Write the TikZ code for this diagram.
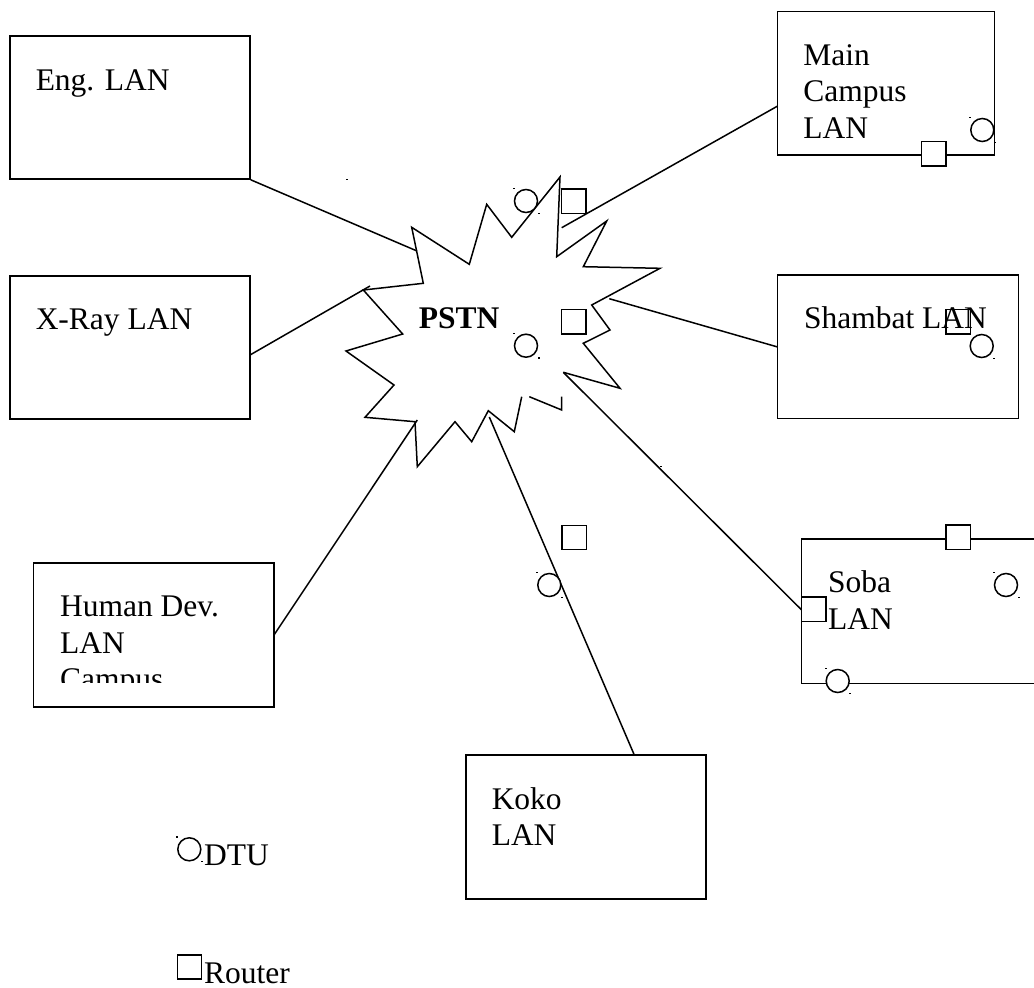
\documentclass[tikz,border=0pt]{standalone}
\usepackage{fontspec}
\setmainfont{Liberation Serif}
% a DTU: small open circle with two tiny frame-corner marks
\newcommand\dtuat[2]{%
  \node[dtu] (#1) at (#2) {};
  \fill ([shift={(-13,-13)}]#1.center) rectangle +(2,1.3);
  \fill ([shift={(11.5,11.5)}]#1.center) rectangle +(2,1.3);
}
\begin{document}
\begin{tikzpicture}[x=1pt,y=-1pt,
  line width=1.5pt, line join=miter,
  lanbox/.style={draw, rectangle, inner sep=0pt},
  router/.style={draw, fill=white, rectangle, minimum size=24.3pt, inner sep=0pt},
  dtu/.style={draw, fill=white, circle, minimum size=23pt, inner sep=0pt},
  lbl/.style={anchor=base west, inner sep=0pt, font=\fontsize{31.5}{36.5}\selectfont},
]
\clip (0,0) rectangle (1034,988);

% LAN boxes
\node[lanbox, minimum width=240pt, minimum height=143.3pt] (eng)  at (130,107.4) {};
\node[lanbox, minimum width=240pt, minimum height=143.3pt] (xray) at (130,347.4) {};
\node[lanbox, minimum width=240.7pt, minimum height=144.3pt] (hum) at (153.7,634.9) {};
\node[lanbox, minimum width=216.6pt, minimum height=143.3pt] (main) at (886,83.3) {};
\node[lanbox, minimum width=240.6pt, minimum height=143.3pt] (shm) at (898,346.7) {};
\node[lanbox, minimum width=240pt, minimum height=144pt] (koko) at (586,827) {};
\node[lanbox, minimum width=260pt, minimum height=144.3pt] (soba) at (931.7,611.2) {};

% PSTN cloud outline
\draw (563.3,372.3) -- (620,388.3) -- (583.3,343.3) -- (610,330) -- (591.7,305)
  -- (660,268.3) -- (583.3,266.7) -- (606.7,221) -- (556.7,256.7) -- (560,177)
  -- (511.7,237.3) -- (486.7,204.3) -- (469.3,264.3) -- (411.7,227.3)
  -- (423.3,283.3) -- (363.3,290) -- (402.7,334) -- (346,351) -- (394,385)
  -- (365,417.3) -- (415,421.7) -- (417.3,466.7) -- (455,421.7) -- (471.7,441.7)
  -- (488.3,410.7) -- (514.3,431.7) -- (521.7,396.7);
\draw (529.3,396.7) -- (561.7,410) -- (561.7,396.7);

% attachment points
\coordinate (sEng)  at (417,251);
\coordinate (sXray) at (370,286);
\coordinate (sHum)  at (417.3,420);
\coordinate (sKoko) at (489.3,417);
\coordinate (sSoba) at (563.3,372.3);
\coordinate (sShm)  at (609.3,298.7);
\coordinate (sMain) at (561.7,227.7);
\coordinate (pXray) at (250,355);
\coordinate (pHum)  at (274,635);
\coordinate (pKoko) at (634.3,755);
\coordinate (pSoba) at (801.7,610);
\coordinate (pShm)  at (777.7,347);
\coordinate (pMain) at (777.7,106);

% links
\draw (eng.south east) -- (sEng);
\draw (pXray) -- (sXray);
\draw (pHum) -- (sHum);
\draw (pKoko) -- (sKoko);
\draw (sSoba) -- (pSoba);
\draw (sShm) -- (pShm);
\draw (sMain) -- (pMain);

% stray marks
\fill (345.7,178.6) rectangle +(2,1.3);
\fill (659.5,465.5) rectangle +(2,1.3);

% routers
\node[router] (r1) at (573.8,201.3) {};
\node[router] (r2) at (573.8,321.7) {};
\node[router] (r3) at (574.2,537.5) {};
\node[router] (r4) at (933.8,153.7) {};
\node[router] (r5) at (958.2,321.7) {};
\node[router] (r6) at (958.2,537.2) {};
\node[router] (r7) at (813.8,609.2) {};
\node[router] (rL) at (189.5,967) {};

% DTUs
\dtuat{d1}{526,201}
\dtuat{d2}{526,345.7}
\dtuat{d3}{549.3,585}
\dtuat{d4}{982.3,130}
\dtuat{d5}{981.7,346}
\dtuat{d6}{1006,585}
\dtuat{d7}{837.7,681}
\dtuat{dL}{189.3,849.3}

% labels
\node[lbl] (tEng) at (35,90) {Eng. LAN};
\node[lbl] (tXray) at (35,329.5) {X-Ray LAN};
\node[lbl] (tHum1) at (59.3,616.7) {Human Dev.};
\node[lbl] (tHum2) at (59.3,653.2) {LAN};
\begin{scope}
  \clip (40,660) rectangle (270,682.7);
  \node[lbl] (tHum3) at (59.3,689.7) {Campus};
\end{scope}
\node[lbl] (tMain1) at (802.7,65) {Main};
\node[lbl] (tMain2) at (802.7,101.5) {Campus};
\node[lbl] (tMain3) at (802.7,138) {LAN};
\node[lbl] (tShm) at (803.3,328.5) {Shambat LAN};
\node[lbl] (tSoba1) at (827.3,592.7) {Soba};
\node[lbl] (tSoba2) at (827.3,629.3) {LAN};
\node[lbl] (tKoko1) at (491,809) {Koko};
\node[lbl] (tKoko2) at (491,845.7) {LAN};
\node[lbl, font=\fontsize{31.5}{36.5}\selectfont\bfseries] (pstn) at (418,328) {PSTN};
\node[lbl] (tDtu) at (203.3,865) {DTU};
\node[lbl] (tRouter) at (203.3,983.5) {Router};
\end{tikzpicture}
\end{document}
